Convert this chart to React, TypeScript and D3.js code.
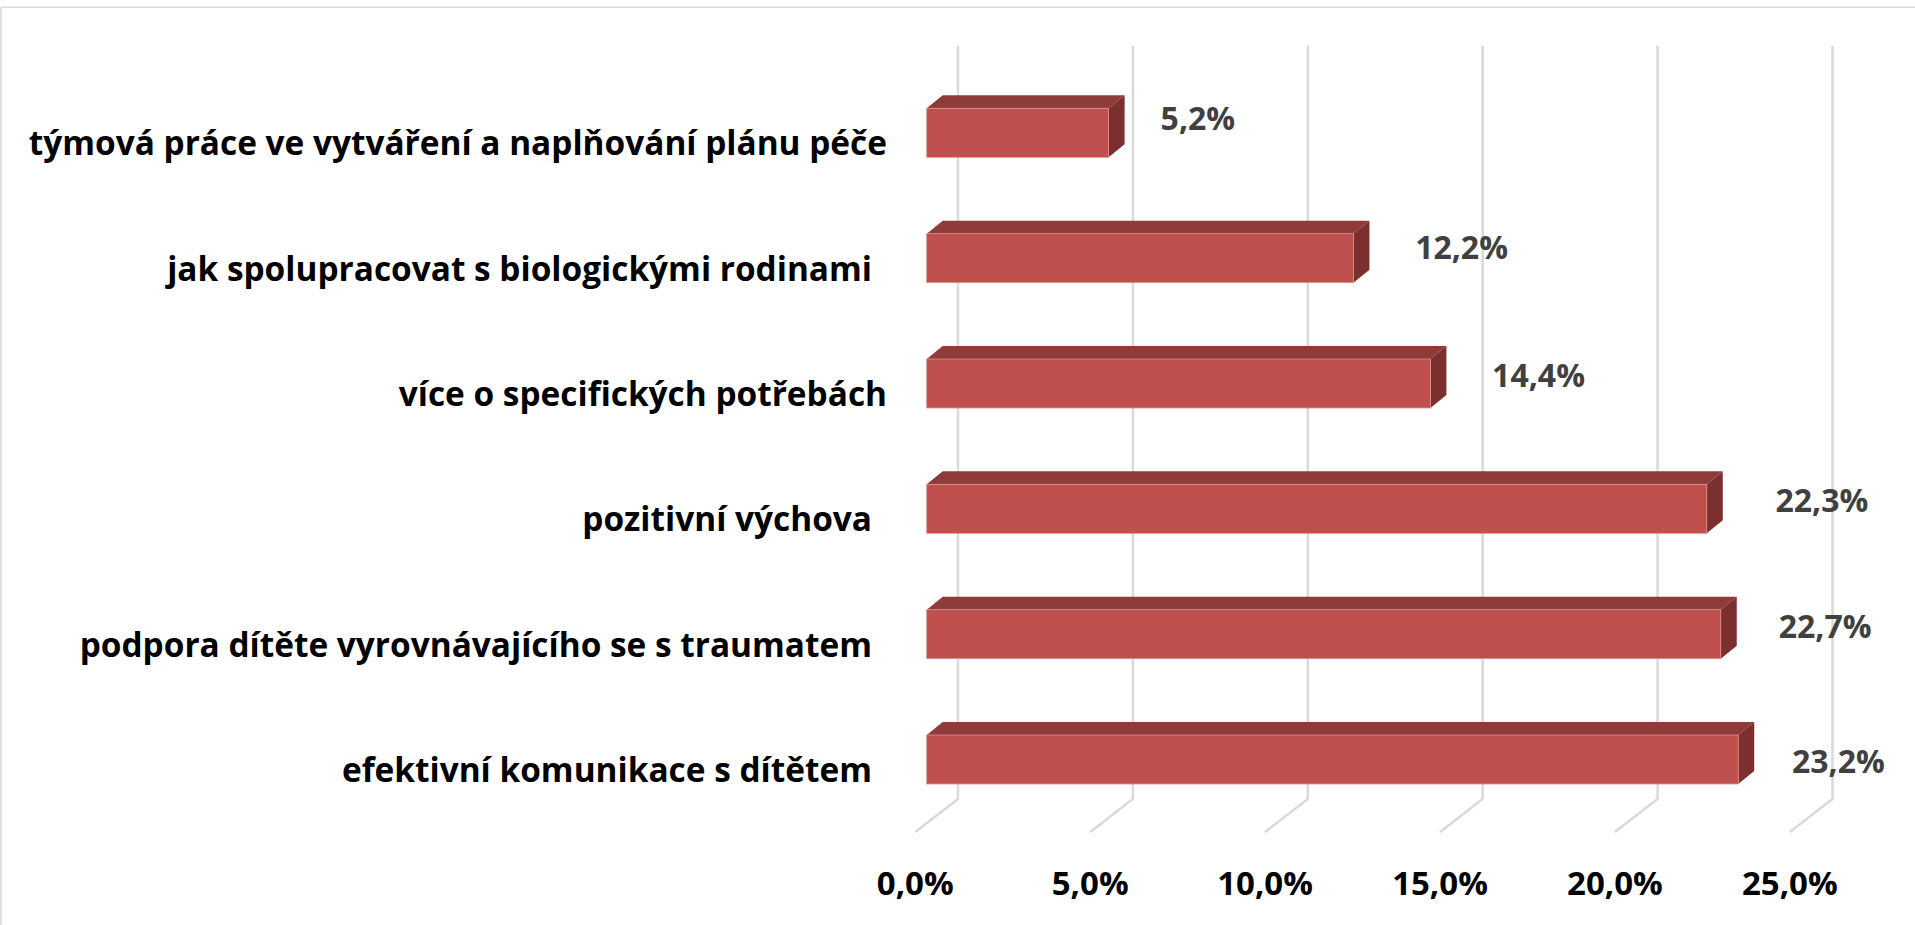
import React, { useEffect } from "react";
import * as d3 from "d3";

const categories = [
  "týmová práce ve vytváření a naplňování plánu péče",
  "jak spolupracovat s biologickými rodinami",
  "více o specifických potřebách",
  "pozitivní výchova",
  "podpora dítěte vyrovnávajícího se s traumatem",
  "efektivní komunikace s dítětem",
];
const values = [5.2, 12.2, 14.4, 22.3, 22.7, 23.2];
const ticks = [0, 5, 10, 15, 20, 25];

// layout-only tweaks (label placement as in the reference)
const valueLabelNudge: [number, number][] = [
  [36, -14.5],
  [45.7, -11.4],
  [45.7, -8.3],
  [52.7, -8.8],
  [42, -8.5],
  [37.7, 1.3],
];
const categoryLabelEnd = [887, 872, 887, 872, 872, 872];

const W = 1915;
const H = 925;

const fmt = (v: number) => d3.format(".1f")(v).replace(".", ",") + "%";

export default function App() {
  useEffect(() => {
    document.body.style.margin = "0";
  }, []);

  const xBack = d3.scaleLinear().domain([0, 25]).range([958, 1832.5]);
  const frontShift = -31.3; // bar front plane offset relative to back wall
  const xFront = (v: number) => xBack(v) + frontShift;
  const y = d3.scalePoint<string>().domain(categories).range([132.8, 759.5]);

  const barH = 49;
  const depthX = 16;
  const depthY = 13;
  const gridTop = 45.7;
  const floorBack = 799;
  const floorDX = -42.7;
  const floorDY = 33;

  const front = "#C0504D";
  const top = "#8E3B39";
  const side = "#7B2F2E";

  return (
    <svg width={W} height={H} style={{ display: "block", background: "#fff" }}>
      {/* frame */}
      <line x1={1} y1={7.3} x2={W} y2={7.3} stroke="#d9d9d9" strokeWidth={1.5} />
      <line x1={1} y1={7.3} x2={1} y2={H} stroke="#d9d9d9" strokeWidth={1.5} />

      {/* gridlines */}
      {ticks.map((t) => {
        const xb = xBack(t);
        return (
          <path
            key={"g" + t}
            d={`M${xb},${gridTop} L${xb},${floorBack} L${xb + floorDX},${floorBack + floorDY}`}
            fill="none"
            stroke="#d9d9d9"
            strokeWidth={2.5}
          />
        );
      })}

      {/* bars */}
      {categories.map((c, i) => {
        const v = values[i];
        const cy = y(c)!;
        const yT = cy - barH / 2;
        const yB = cy + barH / 2;
        const x0 = xFront(0);
        const x1 = xFront(v);
        return (
          <g key={"b" + i}>
            <polygon
              points={`${x0},${yT} ${x1},${yT} ${x1 + depthX},${yT - depthY} ${x0 + depthX},${yT - depthY}`}
              fill={top}
            />
            <polygon
              points={`${x1},${yT} ${x1 + depthX},${yT - depthY} ${x1 + depthX},${yB - depthY} ${x1},${yB}`}
              fill={side}
            />
            <rect x={x0} y={yT} width={x1 - x0} height={barH} fill={front} stroke="#D98F8D" strokeWidth={0.8} />
          </g>
        );
      })}

      {/* value labels */}
      {categories.map((c, i) => {
        const v = values[i];
        const cy = y(c)!;
        const [dx, dy] = valueLabelNudge[i];
        return (
          <text
            key={"v" + i}
            x={xFront(v) + depthX + dx}
            y={cy + dy + 11.9}
            fontFamily="'Open Sans', sans-serif"
            fontWeight={700}
            fontSize={32}
            fill="#404040"
          >
            {fmt(v)}
          </text>
        );
      })}

      {/* category labels */}
      {categories.map((c, i) => (
        <text
          key={"c" + i}
          x={categoryLabelEnd[i]}
          y={y(c)! + 22.5}
          textAnchor="end"
          fontFamily="'Open Sans', sans-serif"
          fontWeight={700}
          fontSize={33.4}
          fill="#000"
        >
          {c}
        </text>
      ))}

      {/* tick labels */}
      {ticks.map((t) => (
        <text
          key={"t" + t}
          x={xBack(t) + floorDX}
          y={895}
          textAnchor="middle"
          fontFamily="'Open Sans', sans-serif"
          fontWeight={700}
          fontSize={33}
          fill="#000"
        >
          {fmt(t)}
        </text>
      ))}
    </svg>
  );
}
